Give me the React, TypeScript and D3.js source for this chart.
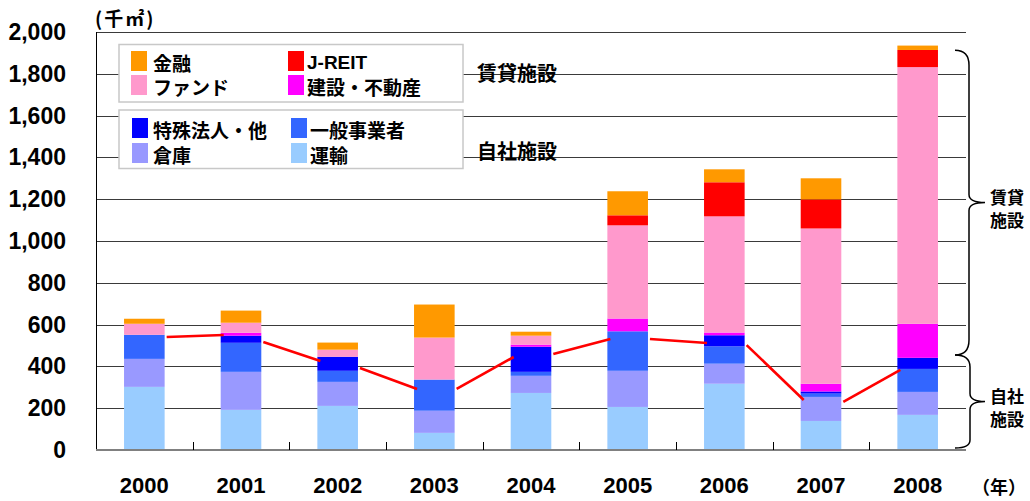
import React from 'react';
import * as d3 from 'd3';

const years = ['2000', '2001', '2002', '2003', '2004', '2005', '2006', '2007', '2008'];
// 自社施設
const transport = [302, 192, 211, 82, 273, 206, 317, 139, 168];
const warehouse = [134, 182, 115, 106, 82, 173, 96, 115, 110];
const business = [115, 139, 53, 149, 19, 189, 83, 16, 110];
const specialCorp = [0, 34, 67, 0, 120, 0, 53, 10, 53];
// 賃貸施設
const construction = [0, 14, 0, 0, 10, 61, 13, 37, 163];
const fund = [53, 48, 34, 201, 43, 446, 556, 743, 1228];
const jreit = [0, 0, 0, 0, 0, 48, 163, 139, 82];
const finance = [24, 58, 34, 158, 19, 115, 62, 101, 21];

const yTicks = [0, 200, 400, 600, 800, 1000, 1200, 1400, 1600, 1800, 2000];
// red boundary line: value at right edge of year i, and at left edge of year i+1
const lineStart = [541, 517, 392, 292, 459, 531, 502, 230];
const lineEnd = [550, 426, 292, 445, 531, 512, 239, 383];
const rentalBrace = [455, 1913];
const ownBrace = [10, 455];

const seriesDefs = [
  { key: 'transport', label: '運輸', color: '#99CCFF', values: transport },
  { key: 'warehouse', label: '倉庫', color: '#9999FF', values: warehouse },
  { key: 'business', label: '一般事業者', color: '#3366FF', values: business },
  { key: 'special', label: '特殊法人・他', color: '#0000FF', values: specialCorp },
  { key: 'construction', label: '建設・不動産', color: '#FF00FF', values: construction },
  { key: 'fund', label: 'ファンド', color: '#FF99CC', values: fund },
  { key: 'jreit', label: 'J-REIT', color: '#FF0000', values: jreit },
  { key: 'finance', label: '金融', color: '#FF9900', values: finance },
];
const colorOf = (k: string) => seriesDefs.find((s) => s.key === k)!.color;
const labelOf = (k: string) => seriesDefs.find((s) => s.key === k)!.label;

const W = 1030;
const H = 501;
const L = 96, R = 966, T = 32, B = 450;

const JP = '"Noto Sans CJK JP", "Noto Sans CJK SC", sans-serif';
const LAT = '"Liberation Sans", Arial, "Noto Sans CJK JP", sans-serif';

function bracePath(x0: number, xv: number, xt: number, yTop: number, yBot: number, r1: number, r2: number) {
  const ym = (yTop + yBot) / 2;
  return [
    `M${x0},${yTop}`,
    `Q${xv},${yTop} ${xv},${yTop + r1}`,
    `L${xv},${ym - 8}`,
    `Q${xv},${ym} ${xt},${ym}`,
    `Q${xv},${ym} ${xv},${ym + 8}`,
    `L${xv},${yBot - r2}`,
    `Q${xv},${yBot} ${x0},${yBot}`,
  ].join(' ');
}

export default function App() {
  const x = d3.scaleBand<string>().domain(years).range([L, R]).paddingInner(0.58).paddingOuter(0.29);
  const y = d3.scaleLinear().domain([0, 2000]).range([B, T]);

  const rows = years.map((yr, i) => {
    const r: any = { year: yr };
    seriesDefs.forEach((s) => (r[s.key] = s.values[i]));
    return r;
  });
  const stacked = d3.stack<any>().keys(seriesDefs.map((s) => s.key))(rows);

  const step = x.step();
  const gap = (step - x.bandwidth()) / 2;
  const boundaries = years.slice(1).map((yr) => x(yr)! - gap);

  const legend1 = [
    { k: 'finance', col: 0, row: 0 },
    { k: 'jreit', col: 1, row: 0 },
    { k: 'fund', col: 0, row: 1 },
    { k: 'construction', col: 1, row: 1 },
  ];
  const legend2 = [
    { k: 'special', col: 0, row: 0 },
    { k: 'business', col: 1, row: 0 },
    { k: 'warehouse', col: 0, row: 1 },
    { k: 'transport', col: 1, row: 1 },
  ];

  return (
    <svg width={W} height={H} style={{ position: 'absolute', left: 0, top: 0, background: '#fff' }}>
      <rect x={0} y={0} width={W} height={H} fill="#fff" />
      {/* gridlines */}
      {yTicks.map((t) => (
        <line key={t} x1={L} x2={R} y1={Math.round(y(t)) + 0.5} y2={Math.round(y(t)) + 0.5} stroke="#3a3a3a" strokeWidth={1} />
      ))}
      {/* y labels */}
      {yTicks.map((t) => (
        <text key={'l' + t} x={66} y={y(t)} textAnchor="end" dominantBaseline="central" fontFamily={LAT} fontWeight="bold" fontSize={23} fill="#000">
          {d3.format(',')(t)}
        </text>
      ))}
      {/* bars */}
      {stacked.map((layer) => (
        <g key={layer.key} fill={colorOf(layer.key)}>
          {layer.map((d, i) =>
            d[1] - d[0] > 0 ? (
              <rect key={i} x={x(years[i])} y={y(d[1])} width={x.bandwidth()} height={y(d[0]) - y(d[1])} />
            ) : null
          )}
        </g>
      ))}
      {/* red boundary line */}
      {lineStart.map((v, i) => (
        <line
          key={'rl' + i}
          x1={x(years[i])! + x.bandwidth() + 2}
          y1={y(v)}
          x2={x(years[i + 1])! + 3}
          y2={y(lineEnd[i])}
          stroke="#FF0000"
          strokeWidth={2.6}
        />
      ))}
      {/* axes */}
      <line x1={L + 0.5} x2={L + 0.5} y1={T} y2={B} stroke="#000" strokeWidth={1} />
      <line x1={L} x2={R} y1={B} y2={B} stroke="#808080" strokeWidth={2} />
      {boundaries.map((bx, i) => (
        <line key={'tk' + i} x1={Math.round(bx) + 0.5} x2={Math.round(bx) + 0.5} y1={B - 8} y2={B} stroke="#000" strokeWidth={1} />
      ))}
      {/* x labels */}
      {years.map((yr) => (
        <text key={'x' + yr} x={x(yr)! + x.bandwidth() / 2} y={493} textAnchor="middle" fontFamily={LAT} fontWeight="bold" fontSize={22} fill="#000">
          {yr}
        </text>
      ))}
      <text x={1026} y={486} textAnchor="end" dominantBaseline="central" fontFamily={JP} fontWeight="bold" fontSize={18} fill="#000">
        （年）
      </text>
      <text x={95} y={17} dominantBaseline="central" fontFamily={JP} fontWeight="bold" fontSize={19} letterSpacing={2} fill="#000">
        (千㎡)
      </text>
      {/* legends */}
      <rect x={119} y={44.5} width={344} height={57.5} fill="#fff" stroke="#c8c8c8" strokeWidth={1.5} />
      {legend1.map((e) => (
        <g key={e.k}>
          <rect x={e.col ? 288 : 131} y={e.row ? 75 : 51} width={16} height={20} fill={colorOf(e.k)} />
          <text x={e.col ? 307 : 153} y={e.row ? 86 : 62} dominantBaseline="central" fontFamily={e.k === 'jreit' ? LAT : JP} fontWeight="bold" fontSize={19} fill="#000">
            {labelOf(e.k)}
          </text>
        </g>
      ))}
      <rect x={119} y={110} width={344} height={58.5} fill="#fff" stroke="#c8c8c8" strokeWidth={1.5} />
      {legend2.map((e) => (
        <g key={e.k}>
          <rect x={e.col ? 291 : 132} y={e.row ? 143 : 118} width={16} height={20} fill={colorOf(e.k)} />
          <text x={e.col ? 310 : 153} y={e.row ? 154 : 129} dominantBaseline="central" fontFamily={JP} fontWeight="bold" fontSize={19} fill="#000">
            {labelOf(e.k)}
          </text>
        </g>
      ))}
      <text x={477} y={72} dominantBaseline="central" fontFamily={JP} fontWeight="bold" fontSize={20} fill="#000">賃貸施設</text>
      <text x={477} y={150} dominantBaseline="central" fontFamily={JP} fontWeight="bold" fontSize={20} fill="#000">自社施設</text>
      {/* braces */}
      <path d={bracePath(955, 969, 985, y(rentalBrace[1]), y(rentalBrace[0]), 15, 15)} fill="none" stroke="#000" strokeWidth={1.5} />
      <path d={bracePath(955, 970, 985, y(ownBrace[1]), y(ownBrace[0]), 12, 8)} fill="none" stroke="#000" strokeWidth={1.5} />
      <text x={990} y={(y(rentalBrace[0]) + y(rentalBrace[1])) / 2 - 6} dominantBaseline="central" fontFamily={JP} fontWeight="bold" fontSize={17} fill="#000">賃貸</text>
      <text x={990} y={(y(rentalBrace[0]) + y(rentalBrace[1])) / 2 + 17} dominantBaseline="central" fontFamily={JP} fontWeight="bold" fontSize={17} fill="#000">施設</text>
      <text x={990} y={(y(ownBrace[0]) + y(ownBrace[1])) / 2 - 6} dominantBaseline="central" fontFamily={JP} fontWeight="bold" fontSize={17} fill="#000">自社</text>
      <text x={990} y={(y(ownBrace[0]) + y(ownBrace[1])) / 2 + 17} dominantBaseline="central" fontFamily={JP} fontWeight="bold" fontSize={17} fill="#000">施設</text>
    </svg>
  );
}
